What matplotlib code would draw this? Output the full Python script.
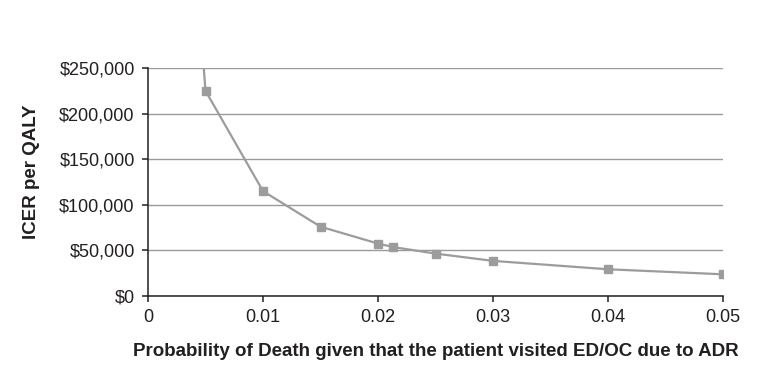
import matplotlib
matplotlib.use('Agg')
import matplotlib.pyplot as plt
from matplotlib.ticker import FuncFormatter

# ---------------- data ----------------
prob_death = [0.004, 0.005, 0.010, 0.015, 0.020, 0.0213, 0.025, 0.030, 0.040, 0.050]
icer = [390000, 225000, 115000, 76000, 57500, 53700, 46500, 38500, 29300, 23800]
x_ticks = [0, 0.01, 0.02, 0.03, 0.04, 0.05]
x_tick_labels = ['0', '0.01', '0.02', '0.03', '0.04', '0.05']
y_ticks = [0, 50000, 100000, 150000, 200000, 250000]

plt.rcParams['font.family'] = ['Liberation Sans', 'DejaVu Sans']
txt_col = '#231f20'

# ---------------- figure layout ----------------
fig = plt.figure(figsize=(7.75, 3.81), dpi=100)
ax1 = fig.add_axes([148 / 775, 1 - 296 / 381, (723 - 148) / 775, (296 - 68) / 381])

ax1.set_xlim(0, 0.05)
ax1.set_ylim(0, 250000)

for axis in ['top', 'right']:
    ax1.spines[axis].set_visible(False)
for axis in ['left', 'bottom']:
    ax1.spines[axis].set_linewidth(1.1)
    ax1.spines[axis].set_color(txt_col)

ax1.yaxis.grid(True, color='#9a9a9a', linewidth=1.0)
ax1.set_axisbelow(True)

ax1.set_xticks(x_ticks)
ax1.set_xticklabels(x_tick_labels)
ax1.set_yticks(y_ticks)
ax1.yaxis.set_major_formatter(FuncFormatter(lambda v, pos: '${:,.0f}'.format(v)))
ax1.tick_params(axis='both', labelsize=13, length=4, width=1.1, color=txt_col,
                labelcolor=txt_col, direction='out')
ax1.tick_params(axis='x', pad=5.5)
ax1.tick_params(axis='y', pad=5.5)

# -------- add data -----------
ax1.plot(prob_death, icer, color='#9c9c9e', linewidth=1.6, marker='s', markersize=5.5,
         markerfacecolor='#9c9c9e', markeredgecolor='#9c9c9e', clip_on=True)

ax1.set_xlabel('Probability of Death given that the patient visited ED/OC due to ADR',
               fontsize=13.5, fontweight='bold', color=txt_col, va='center')
ax1.xaxis.set_label_coords(0.5, (296 - 352) / 228)
ax1.set_ylabel('ICER per QALY', fontsize=13.5, fontweight='bold', color=txt_col, va='center')
ax1.yaxis.set_label_coords((32 - 148) / 575, (296 - 172) / 228)

plt.savefig('out.png', dpi=100)
